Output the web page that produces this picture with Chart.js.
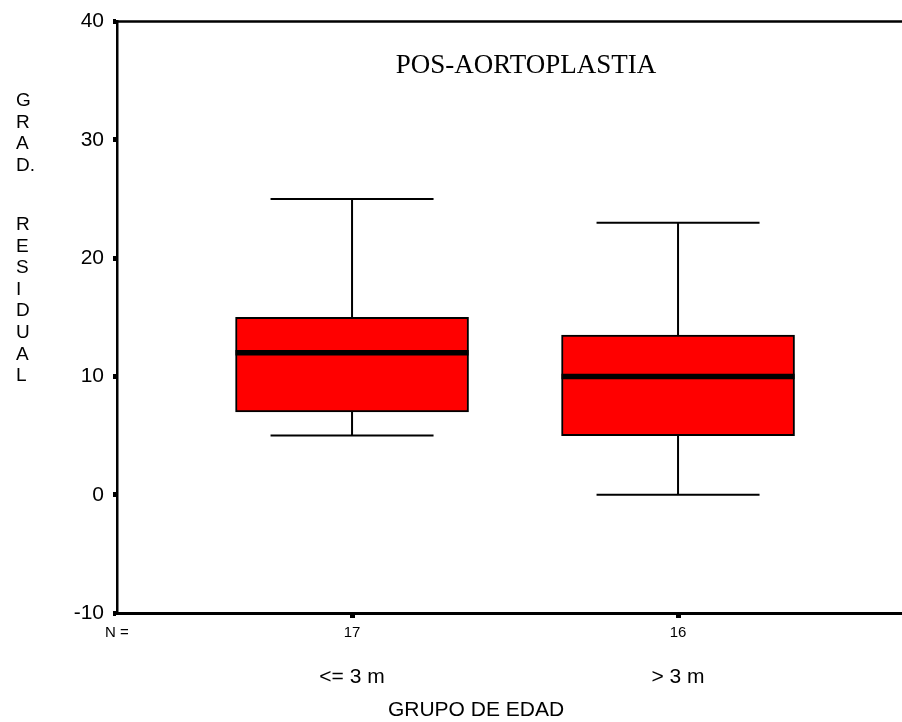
<!DOCTYPE html>
<html lang="es">
<head>
    <meta charset="UTF-8">
    <title>Pos-aortoplastia</title>
    <script src="https://cdn.jsdelivr.net/npm/chart.js"></script>
    <style>
        body { margin: 0; background: #fff; }
        #wrap { width: 902px; height: 722px; }
    </style>
</head>
<body>
    <div id="wrap"><canvas id="chart"></canvas></div>

    <script>
        // data
        const groups = ['<= 3 m', '> 3 m'];
        const counts = [17, 16];
        const groupPos = [1, 2];
        const whiskerLow = [5, 0];
        const q1 = [7, 5];
        const median = [12, 10];
        const q3 = [15, 13.5];
        const whiskerHigh = [25, 23];
        const yTickStep = 10;
        const yTitleBlocks = [['G', 'R', 'A', 'D.'], ['R', 'E', 'S', 'I', 'D', 'U', 'A', 'L']];
        const chartTitle = 'POS-AORTOPLASTIA';
        const xTitle = 'GRUPO DE EDAD';

        const sans = '"Liberation Sans", Arial, sans-serif';

        // whiskers, caps, median and the extra texts
        const boxExtras = {
            id: 'boxExtras',
            afterDatasetsDraw(chart) {
                const { ctx, chartArea, scales: { x, y } } = chart;
                ctx.save();
                ctx.strokeStyle = '#000';
                groupPos.forEach((pos, i) => {
                    const cx = x.getPixelForValue(pos);
                    const capHalf = x.getPixelForValue(pos + 0.25) - cx;
                    const boxHalf = x.getPixelForValue(pos + 0.3575) - cx;
                    ctx.lineWidth = 2;
                    ctx.beginPath();
                    ctx.moveTo(cx, y.getPixelForValue(q3[i]));
                    ctx.lineTo(cx, y.getPixelForValue(whiskerHigh[i]));
                    ctx.moveTo(cx, y.getPixelForValue(q1[i]));
                    ctx.lineTo(cx, y.getPixelForValue(whiskerLow[i]));
                    [whiskerHigh[i], whiskerLow[i]].forEach(v => {
                        const py = y.getPixelForValue(v);
                        ctx.moveTo(cx - capHalf, py);
                        ctx.lineTo(cx + capHalf, py);
                    });
                    ctx.stroke();
                    ctx.lineWidth = 5.5;
                    ctx.beginPath();
                    const my = y.getPixelForValue(median[i]);
                    ctx.moveTo(cx - boxHalf, my);
                    ctx.lineTo(cx + boxHalf, my);
                    ctx.stroke();
                });

                // top frame line
                ctx.lineWidth = 2.5;
                ctx.beginPath();
                ctx.moveTo(chartArea.left, chartArea.top);
                ctx.lineTo(chartArea.right, chartArea.top);
                ctx.stroke();

                ctx.fillStyle = '#000';
                ctx.font = '27px "Liberation Serif", "Times New Roman", serif';
                ctx.textAlign = 'center';
                ctx.textBaseline = 'alphabetic';
                ctx.fillText(chartTitle, 526, 73);

                ctx.font = '21px ' + sans;
                ctx.textBaseline = 'middle';
                ctx.fillText(xTitle, 476, 710);

                ctx.font = '19px ' + sans;
                ctx.textAlign = 'left';
                let ty = 101;
                yTitleBlocks.forEach((block, b) => {
                    if (b > 0) ty += 59 - 21.6;
                    block.forEach(letter => {
                        ctx.fillText(letter, 16, ty);
                        ty += 21.6;
                    });
                });
                ctx.restore();
            }
        };

        new Chart(document.getElementById('chart').getContext('2d'), {
            type: 'bar',
            data: {
                datasets: [{
                    data: groupPos.map((pos, i) => ({ x: pos, y: [q1[i], q3[i]] })),
                    backgroundColor: '#ff0000',
                    borderColor: '#000',
                    borderWidth: 2,
                    borderSkipped: false,
                    barThickness: 233
                }]
            },
            options: {
                responsive: true,
                maintainAspectRatio: false,
                animation: false,
                layout: { padding: { top: 20, left: 0, right: 0, bottom: 0 } },
                plugins: {
                    legend: { display: false },
                    tooltip: { enabled: false }
                },
                scales: {
                    x: {
                        type: 'linear',
                        position: 'bottom',
                        offset: false,
                        min: 0.279,
                        max: 2.687,
                        afterBuildTicks: s => { s.ticks = [{ value: s.min }].concat(groupPos.map(v => ({ value: v }))); },
                        afterFit: s => { s.height = 32; },
                        ticks: {
                            autoSkip: false,
                            maxRotation: 0,
                            padding: 6,
                            color: '#000',
                            font: { family: sans, size: 15 },
                            callback: (v, i) => i === 0 ? 'N =' : counts[i - 1]
                        },
                        grid: {
                            offset: false,
                            drawOnChartArea: false,
                            tickLength: 5,
                            tickWidth: 5,
                            tickColor: c => c.index === 0 ? 'rgba(0,0,0,0)' : '#000'
                        },
                        border: { display: true, color: '#000', width: 3 }
                    },
                    x2: {
                        type: 'linear',
                        position: 'bottom',
                        offset: false,
                        min: 0.279,
                        max: 2.687,
                        afterBuildTicks: s => { s.ticks = groupPos.map(v => ({ value: v })); },
                        afterFit: s => { s.height = 77; },
                        ticks: {
                            autoSkip: false,
                            maxRotation: 0,
                            padding: 12,
                            color: '#000',
                            font: { family: sans, size: 21 },
                            callback: (v, i) => groups[i]
                        },
                        grid: { display: false, offset: false },
                        border: { display: false }
                    },
                    y: {
                        min: -10,
                        max: 40,
                        afterFit: s => { s.width = 117; },
                        ticks: {
                            stepSize: yTickStep,
                            padding: 9,
                            color: '#000',
                            font: { family: sans, size: 21 }
                        },
                        grid: {
                            drawOnChartArea: false,
                            tickLength: 4,
                            tickWidth: 5,
                            tickColor: '#000'
                        },
                        border: { display: true, color: '#000', width: 2.5 }
                    }
                }
            },
            plugins: [boxExtras]
        });
    </script>
</body>
</html>
